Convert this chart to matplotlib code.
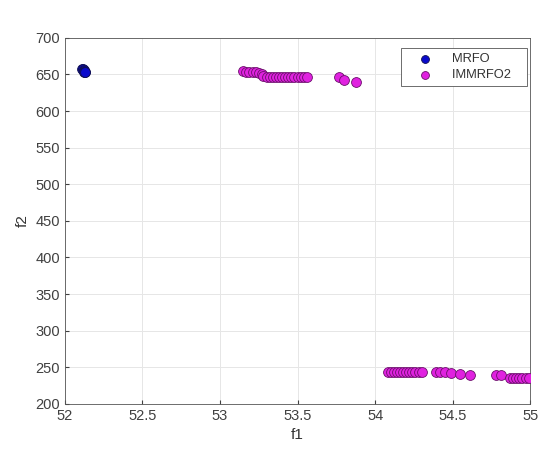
import matplotlib
matplotlib.use('Agg')
import matplotlib.pyplot as plt

plt.rcParams['font.family'] = ['Liberation Sans', 'DejaVu Sans']

# MRFO front
mrfo_f1 = [52.110, 52.115, 52.120, 52.125, 52.130, 52.120, 52.128]
mrfo_f2 = [658, 657, 656, 655, 654, 653, 654]

# IMMRFO2 front
imm_f1 = [53.15, 53.17, 53.19, 53.21, 53.23, 53.25, 53.27, 53.28, 53.30, 53.32,
          53.34, 53.36, 53.38, 53.40, 53.42, 53.44, 53.46, 53.48, 53.50,
          53.52, 53.54, 53.56, 53.77, 53.80, 53.88,
          54.08, 54.10, 54.12, 54.14, 54.16, 54.18, 54.20, 54.22, 54.24,
          54.26, 54.28, 54.30, 54.39, 54.42, 54.45, 54.49, 54.55, 54.61,
          54.78, 54.81, 54.87, 54.89, 54.91, 54.93, 54.95, 54.97, 54.99]
imm_f2 = [655, 654, 654, 654, 653, 652, 650, 648, 647, 647,
          646, 646, 646, 646, 646, 646, 646, 646, 646,
          646, 646, 646, 646, 642, 640,
          244, 244, 244, 244, 244, 244, 244, 244, 244,
          244, 244, 244, 243, 243, 243, 242, 241, 240,
          240, 239, 235, 235, 235, 235, 235, 235, 235]

fig = plt.figure(figsize=(5.5, 4.62), dpi=100)
ax = fig.add_axes([0.118, 0.126, 0.846, 0.792])

ax.scatter(mrfo_f1, mrfo_f2, s=50, c='#0a0acc', edgecolors='#101050',
           linewidths=0.6, label='MRFO', zorder=3)
ax.scatter(imm_f1, imm_f2, s=50, c='#e022e0', edgecolors='#6a106a',
           linewidths=0.6, label='IMMRFO2', zorder=3)

ax.set_xlim(52, 55)
ax.set_ylim(200, 700)
ax.set_xticks([52, 52.5, 53, 53.5, 54, 54.5, 55])
ax.set_xticklabels(['52', '52.5', '53', '53.5', '54', '54.5', '55'])
ax.set_yticks(range(200, 701, 50))
ax.grid(True, color='#e6e6e6', linewidth=0.7)
ax.set_axisbelow(True)
ax.tick_params(direction='in', length=3, colors='#404040', labelsize=10.5,
               top=False, right=False)
for sp in ax.spines.values():
    sp.set_color('#555555')
    sp.set_linewidth(0.6)

ax.set_xlabel('f1', fontsize=11, color='#333333')
ax.set_ylabel('f2', fontsize=11, color='#333333')

handles, labels = ax.get_legend_handles_labels()
# MATLAB leaves extra room on the right of the legend text
leg = ax.legend(handles, [lb + '   ' for lb in labels], loc='upper right',
                fontsize=9.3, fancybox=False, framealpha=1,
                edgecolor='#555555', borderpad=0.4, handlelength=3.0,
                handletextpad=0.55, markerscale=0.8, labelspacing=0.3,
                borderaxespad=0, bbox_to_anchor=(0.993, 0.972))
leg.get_frame().set_linewidth(0.6)
for t in leg.get_texts():
    t.set_color('#333333')

fig.savefig('out.png', dpi=100, facecolor='white')
